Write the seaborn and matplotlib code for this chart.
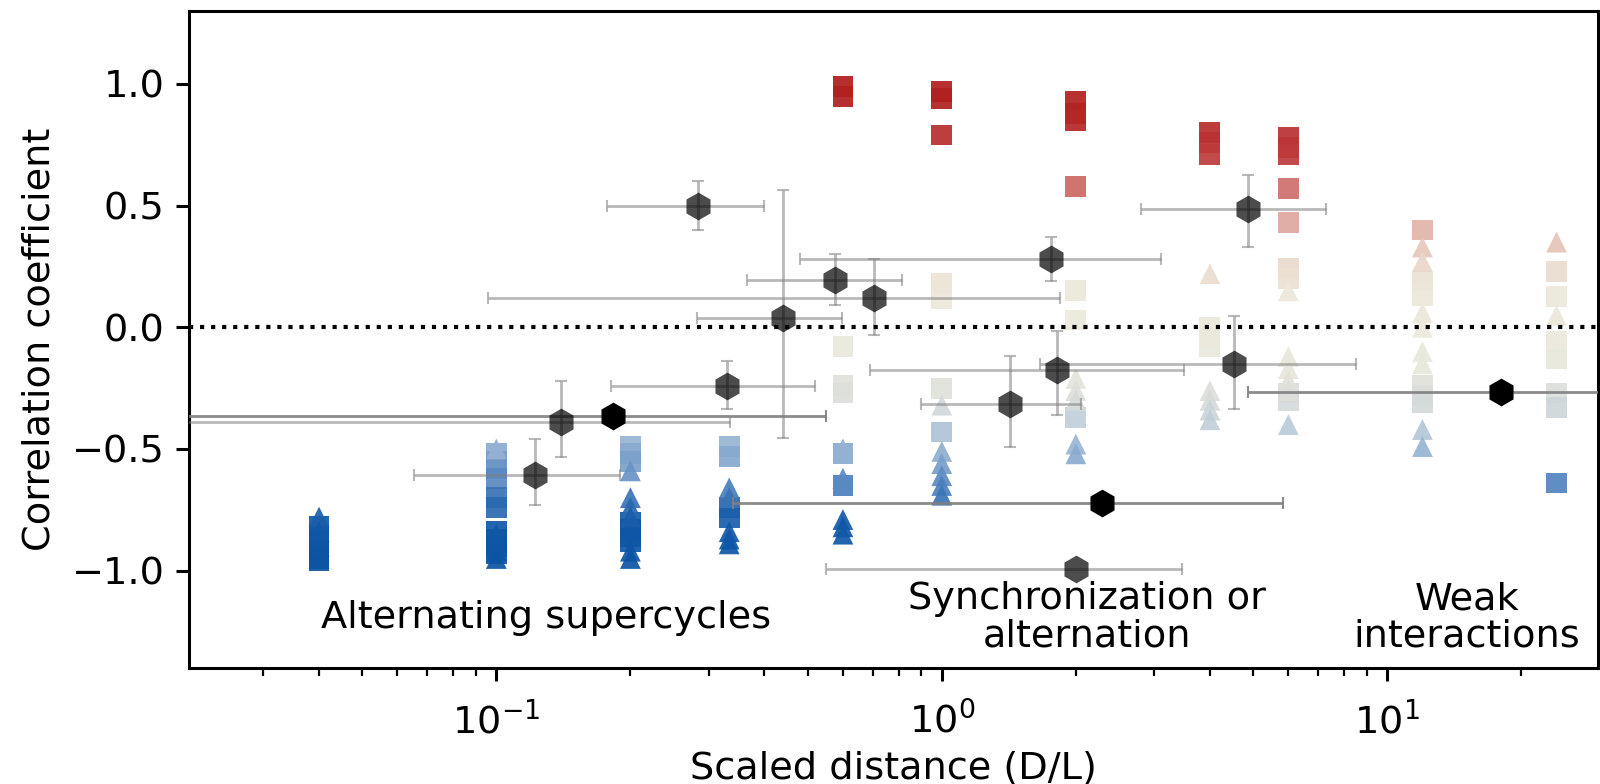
import numpy as np
import pandas as pd
import matplotlib
matplotlib.use('Agg')
import matplotlib.pyplot as plt
from matplotlib.colors import LinearSegmentedColormap
import seaborn as sns

# Square markers (scaled distance, correlation coefficient)
sq_x = [0.04] * 6 + [0.1] * 10 + [0.2] * 7 + [1 / 3] * 4 + [0.6] * 7 + [1.0] * 7 \
    + [2.0] * 7 + [4.0] * 6 + [6.0] * 9 + [12.0] * 6 + [24.0] * 7
sq_r = [-0.82, -0.85, -0.88, -0.91, -0.94, -0.96,
        -0.52, -0.55, -0.58, -0.62, -0.70, -0.74, -0.84, -0.87, -0.90, -0.93,
        -0.49, -0.52, -0.55, -0.80, -0.83, -0.86, -0.88,
        -0.49, -0.53, -0.74, -0.78,
        0.99, 0.95, -0.08, -0.24, -0.27, -0.52, -0.65,
        0.97, 0.94, 0.79, 0.18, 0.12, -0.25, -0.43,
        0.93, 0.88, 0.85, 0.58, 0.15, 0.03, -0.37,
        0.80, 0.76, 0.71, 0.00, -0.04, -0.08,
        0.78, 0.74, 0.71, 0.57, 0.43, 0.24, 0.20, -0.27, -0.30,
        0.40, 0.19, 0.13, -0.24, -0.28, -0.31,
        0.23, 0.125, -0.06, -0.13, -0.27, -0.33, -0.64]

# Triangle markers
tri_x = [0.04] * 4 + [0.1] * 5 + [0.2] * 6 + [1 / 3] * 5 + [0.6] * 5 + [1.0] * 6 \
    + [2.0] * 5 + [4.0] * 5 + [6.0] * 6 + [12.0] * 8 + [24.0] * 2
tri_r = [-0.78, -0.84, -0.90, -0.95,
         -0.50, -0.85, -0.89, -0.92, -0.95,
         -0.59, -0.70, -0.74, -0.78, -0.92, -0.95,
         -0.66, -0.70, -0.84, -0.87, -0.89,
         -0.50, -0.62, -0.79, -0.82, -0.85,
         -0.32, -0.51, -0.56, -0.61, -0.65, -0.69,
         -0.21, -0.26, -0.30, -0.48, -0.52,
         0.22, -0.26, -0.30, -0.34, -0.38,
         0.15, -0.12, -0.17, -0.22, -0.26, -0.40,
         0.33, 0.27, 0.06, 0.00, -0.10, -0.15, -0.42, -0.49,
         0.35, 0.05]

# Hexagons with error bars
hex_x = [0.284, 0.575, 0.705, 0.44, 1.76, 4.88, 0.329, 0.140,
         0.122, 0.183, 2.29, 2.0, 1.42, 1.81, 4.52, 18.0]
hex_r = [0.50, 0.195, 0.12, 0.04, 0.28, 0.485, -0.24, -0.39,
         -0.605, -0.365, -0.72, -0.995, -0.315, -0.174, -0.15, -0.267]
hex_xlo = [0.177, 0.365, 0.096, 0.282, 0.48, 2.8, 0.181, 0.01,
           0.0654, 0.01, 0.34, 0.55, 0.90, 0.69, 1.66, 4.86]
hex_xhi = [0.40, 0.815, 1.84, 0.597, 3.11, 7.3, 0.519, 0.334,
           0.19, 0.55, 5.85, 3.46, 2.05, 3.5, 8.5, 60.0]
hex_rlo = [0.40, 0.09, -0.03, -0.456, 0.19, 0.33, -0.335, -0.534,
           -0.73, np.nan, np.nan, np.nan, -0.49, -0.36, -0.335, np.nan]
hex_rhi = [0.60, 0.30, 0.28, 0.564, 0.37, 0.625, -0.14, -0.22,
           -0.46, np.nan, np.nan, np.nan, -0.117, -0.015, 0.047, np.nan]
hex_black = [False] * 9 + [True, True, False, False, False, False, True]

squares = pd.DataFrame({'x': sq_x, 'r': sq_r})
triangles = pd.DataFrame({'x': tri_x, 'r': tri_r})

cmap = LinearSegmentedColormap.from_list('corr', [
    (0.00, '#0A52A3'), (0.10, '#1259A8'), (0.15, '#3A74B5'),
    (0.19, '#5A8AC2'), (0.24, '#8BACD0'), (0.30, '#BCCCD9'),
    (0.36, '#DCDEDA'), (0.425, '#E9E8DC'), (0.50, '#ECEADC'),
    (0.575, '#ECE8DA'), (0.65, '#E9D2C6'), (0.70, '#E2B5AA'),
    (0.75, '#D88C86'), (0.79, '#CD6A66'), (0.85, '#BF3B3B'),
    (0.925, '#B52525'), (1.00, '#B01C1C')])

sns.set_style('ticks', {'axes.edgecolor': 'black', 'text.color': 'black',
                        'axes.labelcolor': 'black', 'xtick.color': 'black',
                        'ytick.color': 'black'})
plt.rcParams['font.family'] = ['DejaVu Sans']
FS = 27.5

fig, ax = plt.subplots(figsize=(16, 7.84), dpi=100)
fig.subplots_adjust(left=0.118, right=0.999, bottom=0.148, top=0.986)

ax.set_xscale('log')

sns.scatterplot(data=squares, x='x', y='r', hue='r', palette=cmap,
                hue_norm=(-1, 1), marker='s', s=225, linewidth=0,
                alpha=0.92, legend=False, ax=ax, zorder=2)
sns.scatterplot(data=triangles, x='x', y='r', hue='r', palette=cmap,
                hue_norm=(-1, 1), marker='^', s=225, linewidth=0,
                alpha=0.92, legend=False, ax=ax, zorder=2)

# error bars, then hexagons on top
for x, r, xlo, xhi, rlo, rhi, black in zip(hex_x, hex_r, hex_xlo, hex_xhi,
                                            hex_rlo, hex_rhi, hex_black):
    yerr = None if np.isnan(rlo) else [[r - rlo], [rhi - r]]
    ax.errorbar(x, r, xerr=[[x - xlo], [xhi - x]], yerr=yerr, fmt='none',
                ecolor='#7f7f7f', elinewidth=2, capsize=4, capthick=1.5,
                alpha=0.9 if black else 0.55, zorder=3)

hexes = pd.DataFrame({'x': hex_x, 'r': hex_r, 'black': hex_black})
sns.scatterplot(data=hexes[~hexes.black], x='x', y='r', color='black',
                marker='h', s=400, linewidth=0, alpha=0.7, legend=False,
                ax=ax, zorder=4)
sns.scatterplot(data=hexes[hexes.black], x='x', y='r', color='black',
                marker='h', s=400, linewidth=0, legend=False, ax=ax, zorder=4)

ax.axhline(0, color='black', linestyle=':', linewidth=3, zorder=5)

ax.text(0.129, -1.195, 'Alternating supercycles', fontsize=FS,
        ha='center', va='center')
ax.text(2.12, -1.195, 'Synchronization or\nalternation', fontsize=FS,
        ha='center', va='center', linespacing=1.05)
ax.text(15.1, -1.195, 'Weak\ninteractions', fontsize=FS,
        ha='center', va='center', linespacing=1.05)

ax.set(xlim=(0.0204, 29.8), ylim=(-1.4, 1.3))
ax.set_yticks([-1.0, -0.5, 0.0, 0.5, 1.0])
ax.set_xlabel('Scaled distance (D/L)', fontsize=FS, labelpad=6)
ax.set_ylabel('Correlation coefficient', fontsize=FS, labelpad=10)

ax.tick_params(axis='both', which='major', labelsize=FS, length=9.5,
               width=2.2, pad=8)
ax.tick_params(axis='x', which='major', pad=15)
ax.tick_params(axis='x', which='minor', length=5.5, width=1.6)
for side in ['left', 'bottom', 'top', 'right']:
    ax.spines[side].set_linewidth(2.2)

fig.savefig('out.png', dpi=100)
